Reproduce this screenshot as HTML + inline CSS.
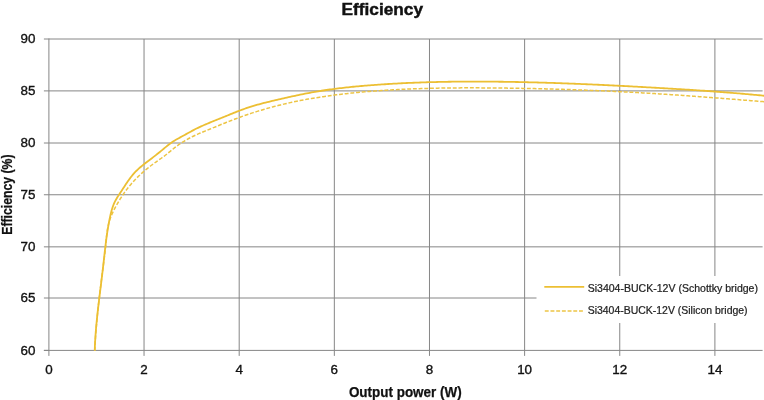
<!DOCTYPE html>
<html><head><meta charset="utf-8"><title>Efficiency</title>
<style>html,body{margin:0;padding:0;background:#fff;}svg{display:block;}</style></head>
<body><svg width="764" height="400" viewBox="0 0 764 400"><g><rect width="764" height="400" fill="#fff"/><line x1="48.90" y1="298.00" x2="762.6" y2="298.00" stroke="#868686" stroke-width="1.0"/>
<line x1="48.90" y1="246.85" x2="762.6" y2="246.85" stroke="#868686" stroke-width="1.0"/>
<line x1="48.90" y1="194.75" x2="762.6" y2="194.75" stroke="#868686" stroke-width="1.0"/>
<line x1="48.90" y1="143.00" x2="762.6" y2="143.00" stroke="#868686" stroke-width="1.0"/>
<line x1="48.90" y1="90.90" x2="762.6" y2="90.90" stroke="#868686" stroke-width="1.0"/>
<line x1="48.90" y1="39.00" x2="762.6" y2="39.00" stroke="#868686" stroke-width="1.0"/>
<line x1="144.04" y1="39.00" x2="144.04" y2="350.40" stroke="#868686" stroke-width="1.0"/>
<line x1="239.19" y1="39.00" x2="239.19" y2="350.40" stroke="#868686" stroke-width="1.0"/>
<line x1="334.33" y1="39.00" x2="334.33" y2="350.40" stroke="#868686" stroke-width="1.0"/>
<line x1="429.47" y1="39.00" x2="429.47" y2="350.40" stroke="#868686" stroke-width="1.0"/>
<line x1="524.62" y1="39.00" x2="524.62" y2="350.40" stroke="#868686" stroke-width="1.0"/>
<line x1="619.76" y1="39.00" x2="619.76" y2="350.40" stroke="#868686" stroke-width="1.0"/>
<line x1="714.90" y1="39.00" x2="714.90" y2="350.40" stroke="#868686" stroke-width="1.0"/>
<line x1="43.9" y1="350.40" x2="48.90" y2="350.40" stroke="#868686" stroke-width="1.0"/>
<line x1="43.9" y1="298.00" x2="48.90" y2="298.00" stroke="#868686" stroke-width="1.0"/>
<line x1="43.9" y1="246.85" x2="48.90" y2="246.85" stroke="#868686" stroke-width="1.0"/>
<line x1="43.9" y1="194.75" x2="48.90" y2="194.75" stroke="#868686" stroke-width="1.0"/>
<line x1="43.9" y1="143.00" x2="48.90" y2="143.00" stroke="#868686" stroke-width="1.0"/>
<line x1="43.9" y1="90.90" x2="48.90" y2="90.90" stroke="#868686" stroke-width="1.0"/>
<line x1="43.9" y1="39.00" x2="48.90" y2="39.00" stroke="#868686" stroke-width="1.0"/>
<line x1="48.90" y1="350.40" x2="48.90" y2="355.9" stroke="#868686" stroke-width="1.0"/>
<line x1="144.04" y1="350.40" x2="144.04" y2="355.9" stroke="#868686" stroke-width="1.0"/>
<line x1="239.19" y1="350.40" x2="239.19" y2="355.9" stroke="#868686" stroke-width="1.0"/>
<line x1="334.33" y1="350.40" x2="334.33" y2="355.9" stroke="#868686" stroke-width="1.0"/>
<line x1="429.47" y1="350.40" x2="429.47" y2="355.9" stroke="#868686" stroke-width="1.0"/>
<line x1="524.62" y1="350.40" x2="524.62" y2="355.9" stroke="#868686" stroke-width="1.0"/>
<line x1="619.76" y1="350.40" x2="619.76" y2="355.9" stroke="#868686" stroke-width="1.0"/>
<line x1="714.90" y1="350.40" x2="714.90" y2="355.9" stroke="#868686" stroke-width="1.0"/>
<line x1="48.90" y1="38.50" x2="48.90" y2="350.40" stroke="#868686" stroke-width="1.0"/>
<line x1="43.9" y1="350.40" x2="762.6" y2="350.40" stroke="#868686" stroke-width="1.0"/>
<path d="M94.71,350.60 L94.80,348.93 L94.88,347.27 L94.98,345.60 L95.08,343.94 L95.18,342.27 L95.29,340.61 L95.40,338.94 L95.51,337.28 L95.63,335.62 L95.75,333.95 L95.88,332.29 L96.01,330.63 L96.15,328.96 L96.28,327.30 L96.43,325.64 L96.57,323.98 L96.72,322.31 L96.87,320.65 L97.03,318.99 L97.19,317.33 L97.35,315.67 L97.51,314.01 L97.68,312.35 L97.85,310.69 L98.02,309.03 L98.20,307.37 L98.38,305.71 L98.56,304.05 L98.74,302.39 L98.93,300.74 L99.11,299.08 L99.30,297.42 L99.50,295.76 L99.69,294.11 L99.89,292.45 L100.09,290.79 L100.29,289.14 L100.49,287.48 L100.69,285.83 L100.90,284.17 L101.11,282.52 L101.32,280.86 L101.53,279.21 L101.74,277.56 L101.95,275.90 L102.16,274.25 L102.38,272.60 L102.59,270.94 L102.81,269.29 L103.03,267.64 L103.25,265.99 L103.47,264.34 L103.68,262.69 L103.90,261.03 L104.11,259.38 L104.32,257.73 L104.53,256.07 L104.73,254.42 L104.92,252.76 L105.11,251.10 L105.29,249.44 L105.46,247.77 L105.63,246.11 L105.78,244.44 L105.93,242.77 L106.09,241.09 L106.24,239.42 L106.41,237.75 L106.58,236.09 L106.77,234.42 L106.98,232.76 L107.22,231.11 L107.47,229.46 L107.76,227.82 L108.09,226.18 L108.45,224.56 L108.84,222.95 L109.29,221.35 L109.77,219.77 L110.31,218.20 L110.90,216.66 L111.53,215.13 L112.21,213.61 L112.92,212.11 L113.65,210.62 L114.41,209.14 L115.18,207.66 L115.97,206.19 L116.78,204.73 L117.61,203.27 L118.45,201.83 L119.31,200.39 L120.19,198.97 L121.08,197.55 L122.00,196.15 L122.93,194.76 L123.88,193.38 L124.84,192.02 L125.83,190.67 L126.83,189.33 L127.85,188.01 L128.89,186.71 L129.95,185.42 L131.03,184.15 L132.12,182.89 L133.24,181.66 L134.37,180.44 L135.52,179.24 L136.69,178.05 L137.87,176.88 L139.07,175.73 L140.28,174.59 L141.51,173.47 L142.75,172.36 L144.01,171.27 L145.28,170.19 L146.56,169.13 L147.86,168.08 L149.16,167.05 L150.48,166.03 L151.81,165.02 L153.15,164.03 L154.50,163.05 L155.86,162.08 L157.22,161.12 L158.59,160.17 L159.96,159.21 L161.32,158.25 L162.67,157.27 L164.01,156.28 L165.34,155.27 L166.64,154.24 L167.94,153.19 L169.23,152.13 L170.51,151.07 L171.80,150.01 L173.10,148.96 L174.40,147.92 L175.72,146.91 L177.06,145.91 L178.41,144.94 L179.78,143.99 L181.16,143.06 L182.56,142.16 L183.98,141.28 L185.40,140.42 L186.85,139.58 L188.30,138.77 L189.77,137.98 L191.25,137.22 L192.74,136.47 L194.24,135.75 L195.75,135.05 L197.27,134.36 L198.80,133.68 L200.33,133.02 L201.87,132.37 L203.42,131.73 L204.96,131.09 L206.51,130.46 L208.06,129.83 L209.61,129.21 L211.16,128.58 L212.71,127.95 L214.25,127.32 L215.80,126.69 L217.34,126.07 L218.89,125.44 L220.43,124.81 L221.98,124.19 L223.52,123.56 L225.07,122.94 L226.62,122.32 L228.16,121.71 L229.71,121.10 L231.27,120.49 L232.82,119.89 L234.37,119.29 L235.93,118.70 L237.49,118.12 L239.05,117.54 L240.62,116.97 L242.19,116.40 L243.76,115.84 L245.33,115.29 L246.91,114.75 L248.49,114.21 L250.07,113.68 L251.66,113.16 L253.25,112.64 L254.84,112.13 L256.43,111.63 L258.02,111.13 L259.62,110.64 L261.22,110.16 L262.82,109.68 L264.43,109.21 L266.03,108.75 L267.64,108.30 L269.25,107.85 L270.86,107.41 L272.47,106.97 L274.08,106.55 L275.70,106.13 L277.32,105.71 L278.93,105.31 L280.55,104.91 L282.18,104.51 L283.80,104.12 L285.42,103.74 L287.05,103.37 L288.67,103.00 L290.30,102.64 L291.93,102.29 L293.56,101.94 L295.19,101.60 L296.83,101.26 L298.46,100.93 L300.10,100.60 L301.73,100.29 L303.37,99.97 L305.01,99.67 L306.65,99.36 L308.29,99.07 L309.93,98.78 L311.57,98.49 L313.22,98.21 L314.86,97.94 L316.51,97.67 L318.15,97.41 L319.80,97.15 L321.45,96.89 L323.10,96.64 L324.75,96.40 L326.40,96.16 L328.05,95.93 L329.70,95.70 L331.35,95.47 L333.01,95.25 L334.66,95.04 L336.32,94.83 L337.97,94.62 L339.63,94.42 L341.28,94.22 L342.94,94.02 L344.60,93.83 L346.25,93.65 L347.91,93.46 L349.57,93.29 L351.23,93.11 L352.89,92.94 L354.55,92.77 L356.21,92.61 L357.87,92.45 L359.53,92.29 L361.19,92.14 L362.86,91.99 L364.52,91.84 L366.18,91.70 L367.84,91.56 L369.50,91.42 L371.17,91.29 L372.83,91.16 L374.49,91.03 L376.16,90.91 L377.82,90.78 L379.48,90.67 L381.15,90.55 L382.81,90.44 L384.47,90.33 L386.14,90.22 L387.80,90.12 L389.47,90.01 L391.13,89.91 L392.80,89.82 L394.46,89.73 L396.13,89.63 L397.79,89.55 L399.46,89.46 L401.12,89.38 L402.79,89.30 L404.46,89.22 L406.12,89.14 L407.79,89.07 L409.45,89.00 L411.12,88.93 L412.79,88.87 L414.45,88.80 L416.12,88.74 L417.79,88.69 L419.45,88.63 L421.12,88.57 L422.79,88.52 L424.46,88.47 L426.12,88.43 L427.79,88.38 L429.46,88.34 L431.13,88.30 L432.79,88.26 L434.46,88.22 L436.13,88.18 L437.80,88.15 L439.46,88.12 L441.13,88.09 L442.80,88.06 L444.47,88.04 L446.14,88.01 L447.81,87.99 L449.47,87.97 L451.14,87.95 L452.81,87.93 L454.48,87.92 L456.15,87.91 L457.82,87.89 L459.48,87.88 L461.15,87.87 L462.82,87.87 L464.49,87.86 L466.16,87.86 L467.83,87.85 L469.50,87.85 L471.17,87.85 L472.83,87.85 L474.50,87.85 L476.17,87.86 L477.84,87.86 L479.51,87.87 L481.18,87.88 L482.85,87.88 L484.52,87.89 L486.19,87.91 L487.85,87.92 L489.52,87.93 L491.19,87.94 L492.86,87.96 L494.53,87.97 L496.20,87.99 L497.87,88.01 L499.53,88.03 L501.20,88.05 L502.87,88.07 L504.54,88.09 L506.21,88.11 L507.88,88.13 L509.55,88.16 L511.21,88.18 L512.88,88.21 L514.55,88.23 L516.22,88.26 L517.89,88.29 L519.55,88.32 L521.22,88.35 L522.89,88.38 L524.56,88.41 L526.23,88.44 L527.89,88.47 L529.56,88.51 L531.23,88.54 L532.90,88.58 L534.56,88.61 L536.23,88.65 L537.90,88.69 L539.57,88.73 L541.24,88.77 L542.90,88.81 L544.57,88.85 L546.24,88.89 L547.91,88.94 L549.57,88.98 L551.24,89.03 L552.91,89.07 L554.57,89.12 L556.24,89.17 L557.91,89.22 L559.58,89.27 L561.24,89.32 L562.91,89.37 L564.58,89.42 L566.24,89.47 L567.91,89.53 L569.58,89.58 L571.24,89.64 L572.91,89.70 L574.58,89.75 L576.24,89.81 L577.91,89.87 L579.58,89.93 L581.24,89.99 L582.91,90.05 L584.58,90.12 L586.24,90.18 L587.91,90.25 L589.58,90.31 L591.24,90.38 L592.91,90.45 L594.58,90.51 L596.24,90.58 L597.91,90.65 L599.57,90.72 L601.24,90.80 L602.91,90.87 L604.57,90.94 L606.24,91.02 L607.91,91.09 L609.57,91.17 L611.24,91.25 L612.90,91.33 L614.57,91.41 L616.23,91.49 L617.90,91.57 L619.57,91.65 L621.23,91.73 L622.90,91.82 L624.56,91.90 L626.23,91.99 L627.89,92.07 L629.56,92.16 L631.23,92.25 L632.89,92.34 L634.56,92.43 L636.22,92.52 L637.89,92.61 L639.55,92.71 L641.22,92.80 L642.88,92.89 L644.55,92.99 L646.21,93.09 L647.88,93.19 L649.54,93.28 L651.21,93.38 L652.87,93.48 L654.54,93.59 L656.20,93.69 L657.87,93.79 L659.53,93.90 L661.20,94.00 L662.86,94.11 L664.53,94.22 L666.19,94.32 L667.86,94.43 L669.52,94.54 L671.19,94.65 L672.85,94.77 L674.52,94.88 L676.18,94.99 L677.85,95.10 L679.51,95.22 L681.18,95.34 L682.84,95.45 L684.50,95.57 L686.17,95.69 L687.83,95.81 L689.50,95.92 L691.16,96.04 L692.83,96.16 L694.49,96.29 L696.15,96.41 L697.82,96.53 L699.48,96.65 L701.15,96.78 L702.81,96.90 L704.47,97.03 L706.14,97.15 L707.80,97.28 L709.46,97.40 L711.13,97.53 L712.79,97.66 L714.45,97.78 L716.12,97.91 L717.78,98.04 L719.45,98.17 L721.11,98.30 L722.77,98.43 L724.43,98.56 L726.10,98.69 L727.76,98.82 L729.42,98.95 L731.09,99.08 L732.75,99.22 L734.41,99.35 L736.08,99.48 L737.74,99.61 L739.40,99.75 L741.06,99.88 L742.73,100.01 L744.39,100.15 L746.05,100.28 L747.71,100.41 L749.37,100.55 L751.04,100.68 L752.70,100.81 L754.36,100.95 L756.02,101.08 L757.68,101.22 L759.35,101.35 L761.01,101.49 L762.67,101.62 L764.33,101.76 L765.99,101.89" fill="none" stroke="#edc545" stroke-width="1.5" stroke-dasharray="3.9 1.8"/>
<path d="M94.73,350.60 L94.79,348.92 L94.85,347.24 L94.92,345.55 L95.00,343.87 L95.09,342.19 L95.18,340.51 L95.28,338.83 L95.39,337.16 L95.50,335.48 L95.62,333.80 L95.75,332.13 L95.88,330.45 L96.02,328.78 L96.16,327.10 L96.31,325.43 L96.46,323.75 L96.62,322.08 L96.79,320.41 L96.95,318.74 L97.12,317.07 L97.30,315.40 L97.48,313.73 L97.66,312.06 L97.85,310.39 L98.04,308.72 L98.23,307.05 L98.42,305.38 L98.62,303.71 L98.82,302.04 L99.02,300.38 L99.22,298.71 L99.42,297.04 L99.63,295.37 L99.83,293.71 L100.04,292.04 L100.25,290.37 L100.45,288.70 L100.66,287.04 L100.87,285.37 L101.08,283.70 L101.28,282.03 L101.49,280.36 L101.69,278.70 L101.89,277.03 L102.10,275.36 L102.30,273.69 L102.49,272.02 L102.69,270.35 L102.88,268.68 L103.07,267.01 L103.26,265.34 L103.45,263.67 L103.63,262.00 L103.82,260.33 L104.00,258.66 L104.19,256.99 L104.37,255.32 L104.56,253.64 L104.75,251.97 L104.94,250.30 L105.13,248.63 L105.33,246.96 L105.53,245.30 L105.73,243.63 L105.94,241.96 L106.15,240.29 L106.37,238.63 L106.60,236.96 L106.83,235.30 L107.08,233.64 L107.33,231.98 L107.58,230.31 L107.85,228.66 L108.13,227.00 L108.41,225.34 L108.71,223.69 L109.02,222.03 L109.34,220.38 L109.67,218.73 L110.01,217.08 L110.37,215.44 L110.75,213.80 L111.16,212.17 L111.59,210.55 L112.06,208.94 L112.58,207.35 L113.14,205.77 L113.75,204.22 L114.42,202.69 L115.15,201.19 L115.94,199.72 L116.78,198.26 L117.65,196.82 L118.55,195.39 L119.48,193.97 L120.41,192.56 L121.35,191.15 L122.27,189.74 L123.20,188.33 L124.12,186.92 L125.04,185.51 L125.96,184.11 L126.90,182.72 L127.84,181.34 L128.80,179.97 L129.78,178.62 L130.78,177.29 L131.81,175.98 L132.87,174.69 L133.96,173.43 L135.08,172.19 L136.25,170.99 L137.46,169.82 L138.70,168.67 L139.97,167.55 L141.26,166.46 L142.57,165.38 L143.89,164.32 L145.22,163.27 L146.56,162.24 L147.89,161.21 L149.23,160.19 L150.56,159.17 L151.90,158.16 L153.24,157.14 L154.57,156.12 L155.89,155.10 L157.21,154.07 L158.53,153.02 L159.83,151.97 L161.13,150.90 L162.42,149.83 L163.71,148.75 L165.00,147.67 L166.30,146.60 L167.60,145.55 L168.92,144.52 L170.26,143.51 L171.62,142.54 L173.01,141.60 L174.42,140.70 L175.85,139.83 L177.30,138.99 L178.77,138.16 L180.24,137.35 L181.72,136.55 L183.20,135.76 L184.69,134.96 L186.16,134.15 L187.64,133.33 L189.11,132.51 L190.58,131.70 L192.05,130.89 L193.53,130.10 L195.02,129.32 L196.52,128.56 L198.02,127.82 L199.54,127.10 L201.06,126.39 L202.59,125.70 L204.12,125.03 L205.66,124.36 L207.21,123.71 L208.76,123.06 L210.31,122.42 L211.87,121.79 L213.43,121.16 L214.99,120.53 L216.55,119.91 L218.11,119.28 L219.67,118.65 L221.23,118.02 L222.79,117.39 L224.35,116.75 L225.91,116.11 L227.47,115.48 L229.02,114.84 L230.58,114.20 L232.14,113.57 L233.70,112.95 L235.27,112.32 L236.83,111.71 L238.40,111.10 L239.97,110.50 L241.54,109.91 L243.12,109.33 L244.70,108.76 L246.28,108.20 L247.87,107.66 L249.46,107.13 L251.06,106.62 L252.66,106.12 L254.26,105.64 L255.87,105.17 L257.49,104.71 L259.11,104.26 L260.73,103.82 L262.35,103.40 L263.98,102.98 L265.61,102.57 L267.24,102.16 L268.87,101.76 L270.51,101.37 L272.14,100.98 L273.78,100.60 L275.42,100.21 L277.05,99.83 L278.69,99.45 L280.33,99.07 L281.97,98.69 L283.61,98.31 L285.25,97.94 L286.89,97.57 L288.53,97.20 L290.17,96.84 L291.81,96.48 L293.45,96.12 L295.09,95.76 L296.74,95.41 L298.38,95.07 L300.02,94.72 L301.67,94.39 L303.32,94.05 L304.96,93.72 L306.61,93.40 L308.26,93.08 L309.91,92.77 L311.56,92.46 L313.21,92.16 L314.87,91.87 L316.52,91.58 L318.18,91.30 L319.83,91.02 L321.49,90.75 L323.15,90.49 L324.81,90.24 L326.47,89.99 L328.13,89.75 L329.80,89.51 L331.46,89.28 L333.13,89.06 L334.79,88.84 L336.46,88.63 L338.13,88.42 L339.80,88.22 L341.46,88.02 L343.13,87.83 L344.81,87.64 L346.48,87.46 L348.15,87.28 L349.82,87.11 L351.49,86.94 L353.17,86.77 L354.84,86.61 L356.52,86.45 L358.19,86.30 L359.87,86.15 L361.54,86.00 L363.22,85.86 L364.89,85.71 L366.57,85.58 L368.24,85.44 L369.92,85.31 L371.60,85.18 L373.27,85.05 L374.95,84.92 L376.62,84.80 L378.30,84.68 L379.98,84.56 L381.66,84.45 L383.33,84.34 L385.01,84.23 L386.69,84.12 L388.36,84.01 L390.04,83.91 L391.72,83.81 L393.40,83.71 L395.08,83.62 L396.75,83.53 L398.43,83.44 L400.11,83.35 L401.79,83.27 L403.47,83.18 L405.14,83.10 L406.82,83.02 L408.50,82.95 L410.18,82.87 L411.86,82.80 L413.54,82.73 L415.22,82.67 L416.90,82.60 L418.58,82.54 L420.25,82.48 L421.93,82.42 L423.61,82.37 L425.29,82.31 L426.97,82.26 L428.65,82.21 L430.33,82.16 L432.01,82.12 L433.69,82.07 L435.37,82.03 L437.05,81.99 L438.73,81.95 L440.41,81.92 L442.09,81.88 L443.77,81.85 L445.45,81.82 L447.13,81.79 L448.81,81.77 L450.49,81.74 L452.17,81.72 L453.85,81.70 L455.53,81.68 L457.21,81.66 L458.89,81.64 L460.57,81.63 L462.25,81.62 L463.93,81.61 L465.62,81.60 L467.30,81.59 L468.98,81.58 L470.66,81.58 L472.34,81.58 L474.02,81.58 L475.70,81.58 L477.38,81.58 L479.06,81.58 L480.74,81.59 L482.42,81.59 L484.10,81.60 L485.78,81.61 L487.46,81.62 L489.14,81.63 L490.82,81.64 L492.50,81.66 L494.18,81.67 L495.87,81.69 L497.55,81.71 L499.23,81.73 L500.91,81.75 L502.59,81.77 L504.27,81.80 L505.95,81.82 L507.63,81.85 L509.31,81.87 L510.99,81.90 L512.67,81.93 L514.35,81.96 L516.03,81.99 L517.71,82.02 L519.39,82.06 L521.07,82.09 L522.75,82.13 L524.43,82.17 L526.11,82.21 L527.79,82.25 L529.47,82.29 L531.15,82.33 L532.83,82.37 L534.51,82.41 L536.19,82.46 L537.87,82.50 L539.55,82.55 L541.23,82.60 L542.91,82.65 L544.59,82.70 L546.27,82.75 L547.95,82.80 L549.63,82.85 L551.31,82.91 L552.99,82.96 L554.67,83.02 L556.35,83.07 L558.03,83.13 L559.71,83.19 L561.39,83.25 L563.07,83.31 L564.75,83.37 L566.43,83.43 L568.11,83.50 L569.78,83.56 L571.46,83.63 L573.14,83.69 L574.82,83.76 L576.50,83.83 L578.18,83.89 L579.86,83.96 L581.54,84.03 L583.22,84.10 L584.90,84.17 L586.58,84.25 L588.26,84.32 L589.94,84.39 L591.61,84.47 L593.29,84.54 L594.97,84.62 L596.65,84.69 L598.33,84.77 L600.01,84.85 L601.69,84.93 L603.37,85.01 L605.05,85.09 L606.72,85.17 L608.40,85.25 L610.08,85.33 L611.76,85.41 L613.44,85.50 L615.12,85.58 L616.80,85.66 L618.48,85.75 L620.15,85.84 L621.83,85.92 L623.51,86.01 L625.19,86.10 L626.87,86.18 L628.55,86.27 L630.22,86.36 L631.90,86.45 L633.58,86.54 L635.26,86.63 L636.94,86.72 L638.62,86.81 L640.29,86.91 L641.97,87.00 L643.65,87.09 L645.33,87.18 L647.01,87.28 L648.68,87.37 L650.36,87.47 L652.04,87.56 L653.72,87.66 L655.40,87.75 L657.07,87.85 L658.75,87.95 L660.43,88.04 L662.11,88.14 L663.78,88.24 L665.46,88.34 L667.14,88.44 L668.82,88.54 L670.49,88.64 L672.17,88.74 L673.85,88.84 L675.53,88.94 L677.20,89.04 L678.88,89.14 L680.56,89.25 L682.24,89.35 L683.91,89.45 L685.59,89.56 L687.27,89.67 L688.94,89.77 L690.62,89.88 L692.30,89.99 L693.97,90.10 L695.65,90.21 L697.33,90.32 L699.00,90.43 L700.68,90.54 L702.36,90.66 L704.03,90.77 L705.71,90.89 L707.39,91.01 L709.06,91.12 L710.74,91.24 L712.41,91.36 L714.09,91.48 L715.77,91.61 L717.44,91.73 L719.12,91.85 L720.79,91.98 L722.47,92.11 L724.14,92.24 L725.82,92.36 L727.49,92.50 L729.17,92.63 L730.84,92.76 L732.52,92.90 L734.19,93.03 L735.87,93.17 L737.54,93.31 L739.22,93.45 L740.89,93.59 L742.57,93.74 L744.24,93.88 L745.91,94.03 L747.59,94.18 L749.26,94.33 L750.94,94.48 L752.61,94.64 L754.28,94.79 L755.96,94.95 L757.63,95.11 L759.30,95.27 L760.98,95.43 L762.65,95.60 L764.32,95.76 L765.99,95.93" fill="none" stroke="#ecbf33" stroke-width="1.8"/>
<rect x="536.5" y="276" width="228" height="47" fill="#fff"/>
<line x1="544.3" y1="286.9" x2="584.2" y2="286.9" stroke="#ecbf33" stroke-width="1.8"/>
<line x1="544.8" y1="310.9" x2="584" y2="310.9" stroke="#edc545" stroke-width="1.5" stroke-dasharray="3.9 1.8"/>
<text x="587.7" y="291.65" font-family="&quot;Liberation Sans&quot;, Arial, sans-serif" font-size="10.3" fill="#222" stroke="#222" stroke-width="0.22" textLength="170.3" lengthAdjust="spacingAndGlyphs">Si3404-BUCK-12V (Schottky bridge)</text>
<text x="587.7" y="314" font-family="&quot;Liberation Sans&quot;, Arial, sans-serif" font-size="10.3" fill="#222" stroke="#222" stroke-width="0.22" textLength="159.9" lengthAdjust="spacingAndGlyphs">Si3404-BUCK-12V (Silicon bridge)</text>
<text x="35.5" y="354.70" font-family="&quot;Liberation Sans&quot;, Arial, sans-serif" font-size="13.4" fill="#111111" stroke="#111111" stroke-width="0.35" text-anchor="end">60</text>
<text x="35.5" y="302.30" font-family="&quot;Liberation Sans&quot;, Arial, sans-serif" font-size="13.4" fill="#111111" stroke="#111111" stroke-width="0.35" text-anchor="end">65</text>
<text x="35.5" y="251.15" font-family="&quot;Liberation Sans&quot;, Arial, sans-serif" font-size="13.4" fill="#111111" stroke="#111111" stroke-width="0.35" text-anchor="end">70</text>
<text x="35.5" y="199.05" font-family="&quot;Liberation Sans&quot;, Arial, sans-serif" font-size="13.4" fill="#111111" stroke="#111111" stroke-width="0.35" text-anchor="end">75</text>
<text x="35.5" y="147.30" font-family="&quot;Liberation Sans&quot;, Arial, sans-serif" font-size="13.4" fill="#111111" stroke="#111111" stroke-width="0.35" text-anchor="end">80</text>
<text x="35.5" y="95.20" font-family="&quot;Liberation Sans&quot;, Arial, sans-serif" font-size="13.4" fill="#111111" stroke="#111111" stroke-width="0.35" text-anchor="end">85</text>
<text x="35.5" y="43.30" font-family="&quot;Liberation Sans&quot;, Arial, sans-serif" font-size="13.4" fill="#111111" stroke="#111111" stroke-width="0.35" text-anchor="end">90</text>
<text x="48.90" y="374.2" font-family="&quot;Liberation Sans&quot;, Arial, sans-serif" font-size="13.4" fill="#111111" stroke="#111111" stroke-width="0.35" text-anchor="middle">0</text>
<text x="144.04" y="374.2" font-family="&quot;Liberation Sans&quot;, Arial, sans-serif" font-size="13.4" fill="#111111" stroke="#111111" stroke-width="0.35" text-anchor="middle">2</text>
<text x="239.19" y="374.2" font-family="&quot;Liberation Sans&quot;, Arial, sans-serif" font-size="13.4" fill="#111111" stroke="#111111" stroke-width="0.35" text-anchor="middle">4</text>
<text x="334.33" y="374.2" font-family="&quot;Liberation Sans&quot;, Arial, sans-serif" font-size="13.4" fill="#111111" stroke="#111111" stroke-width="0.35" text-anchor="middle">6</text>
<text x="429.47" y="374.2" font-family="&quot;Liberation Sans&quot;, Arial, sans-serif" font-size="13.4" fill="#111111" stroke="#111111" stroke-width="0.35" text-anchor="middle">8</text>
<text x="524.62" y="374.2" font-family="&quot;Liberation Sans&quot;, Arial, sans-serif" font-size="13.4" fill="#111111" stroke="#111111" stroke-width="0.35" text-anchor="middle">10</text>
<text x="619.76" y="374.2" font-family="&quot;Liberation Sans&quot;, Arial, sans-serif" font-size="13.4" fill="#111111" stroke="#111111" stroke-width="0.35" text-anchor="middle">12</text>
<text x="714.90" y="374.2" font-family="&quot;Liberation Sans&quot;, Arial, sans-serif" font-size="13.4" fill="#111111" stroke="#111111" stroke-width="0.35" text-anchor="middle">14</text>
<text x="341.6" y="14.65" font-family="&quot;Liberation Sans&quot;, Arial, sans-serif" font-size="17.1" font-weight="bold" fill="#111111" stroke="#111111" stroke-width="0.45" textLength="81.4" lengthAdjust="spacingAndGlyphs">Efficiency</text>
<text x="348.9" y="396.9" font-family="&quot;Liberation Sans&quot;, Arial, sans-serif" font-size="14.0" font-weight="bold" fill="#111111" stroke="#111111" stroke-width="0.25" textLength="112.8" lengthAdjust="spacingAndGlyphs">Output power (W)</text>
<text transform="translate(11.5,234.75) rotate(-90)" x="0" y="0" font-family="&quot;Liberation Sans&quot;, Arial, sans-serif" font-size="14.0" font-weight="bold" fill="#111111" stroke="#111111" stroke-width="0.25" textLength="80.3" lengthAdjust="spacingAndGlyphs">Efficiency (%)</text></g></svg></body></html>
